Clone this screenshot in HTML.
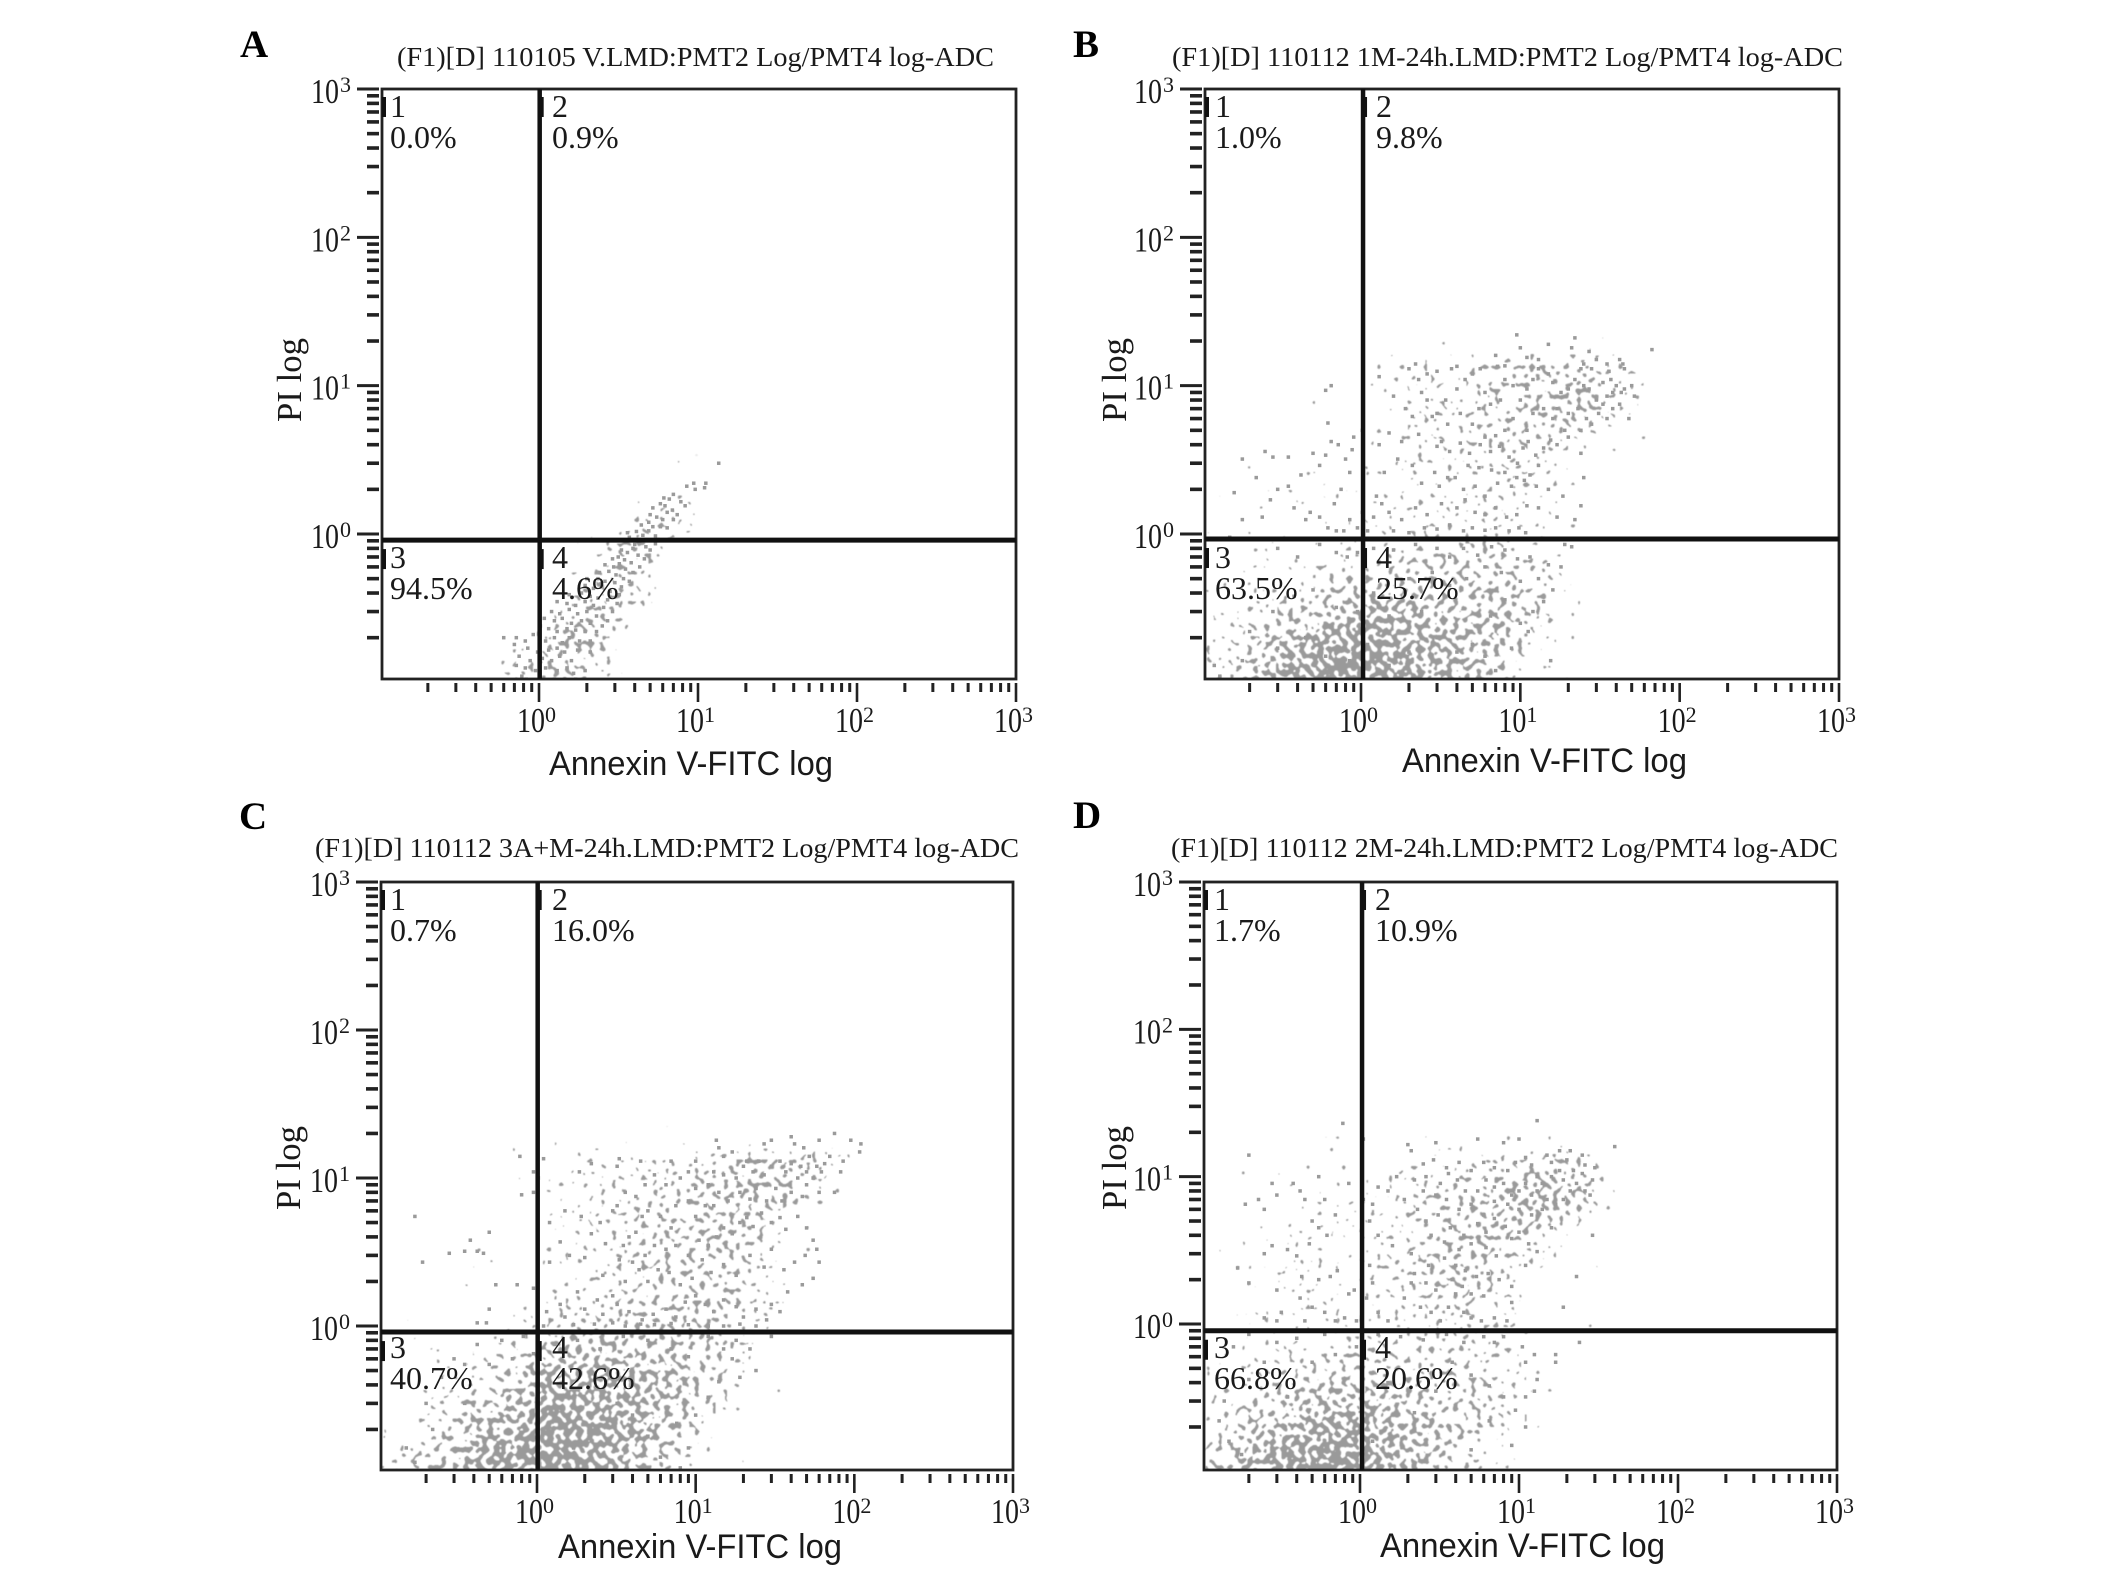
<!DOCTYPE html>
<html lang="en">
<head>
<meta charset="utf-8">
<title>Annexin V-FITC / PI flow cytometry panels</title>
<style>
html,body{margin:0;padding:0;background:#fff;width:2126px;height:1573px;overflow:hidden}
svg{display:block}
.ser{font-family:"Liberation Serif",serif;fill:#1a1a1a}
.san{font-family:"Liberation Sans",sans-serif;fill:#1a1a1a}
.letter{font-family:"Liberation Serif",serif;font-weight:bold;font-size:39px;fill:#000}
.title{font-size:27px}
.q{font-size:32px}
.axis-x{font-size:34px}
.axis-y{font-size:35px}
</style>
</head>
<body>
<svg id="figure" xmlns="http://www.w3.org/2000/svg" width="2126" height="1573" viewBox="0 0 2126 1573">
<defs>
<filter id="densityStipple" filterUnits="userSpaceOnUse" x="0" y="0" width="2126" height="1573" color-interpolation-filters="sRGB">
<feGaussianBlur in="SourceAlpha" stdDeviation="11" result="spread"/>
<feTurbulence type="fractalNoise" baseFrequency="0.17" numOctaves="1" seed="3" result="turb"/>
<feColorMatrix in="turb" type="matrix" values="0 0 0 0 0 0 0 0 0 0 0 0 0 0 0 0 0 0 1 0" result="noise"/>
<feComposite in="spread" in2="noise" operator="arithmetic" k1="0" k2="0.42" k3="1" k4="0" result="sum"/>
<feComponentTransfer in="sum" result="cut"><feFuncA type="discrete" tableValues="0 0 0 0 1"/></feComponentTransfer>
<feComponentTransfer in="spread" result="gate"><feFuncA type="linear" slope="60"/></feComponentTransfer>
<feComposite in="cut" in2="gate" operator="in" result="kept"/>
<feFlood flood-color="#9a9a9a" result="ink"/>
<feComposite in="ink" in2="kept" operator="in"/>
<feGaussianBlur stdDeviation="0.45"/>
</filter>
</defs>

<g id="panel-a">
<text class="letter" x="240" y="57">A</text>
<text class="ser title" x="397" y="66" textLength="597" lengthAdjust="spacingAndGlyphs">(F1)[D] 110105 V.LMD:PMT2 Log/PMT4 log-ADC</text>
<text class="san axis-x" x="549" y="775" textLength="284" lengthAdjust="spacingAndGlyphs">Annexin V-FITC log</text>
<text class="ser axis-y" transform="translate(301 422) rotate(-90)" textLength="84" lengthAdjust="spacingAndGlyphs">PI log</text>
<g>
<text class="ser q" x="390" y="117">1</text>
<text class="ser q" x="390" y="148">0.0%</text>
<text class="ser q" x="552" y="117">2</text>
<text class="ser q" x="552" y="148">0.9%</text>
<text class="ser q" x="390" y="568">3</text>
<text class="ser q" x="390" y="599">94.5%</text>
<text class="ser q" x="552" y="568">4</text>
<text class="ser q" x="552" y="599">4.6%</text>
</g>
</g>

<g id="panel-b">
<text class="letter" x="1073" y="57">B</text>
<text class="ser title" x="1172" y="66" textLength="671" lengthAdjust="spacingAndGlyphs">(F1)[D] 110112 1M-24h.LMD:PMT2 Log/PMT4 log-ADC</text>
<text class="san axis-x" x="1402" y="772" textLength="285" lengthAdjust="spacingAndGlyphs">Annexin V-FITC log</text>
<text class="ser axis-y" transform="translate(1126 422) rotate(-90)" textLength="84" lengthAdjust="spacingAndGlyphs">PI log</text>
<g>
<text class="ser q" x="1215" y="117">1</text>
<text class="ser q" x="1215" y="148">1.0%</text>
<text class="ser q" x="1376" y="117">2</text>
<text class="ser q" x="1376" y="148">9.8%</text>
<text class="ser q" x="1215" y="568">3</text>
<text class="ser q" x="1215" y="599">63.5%</text>
<text class="ser q" x="1376" y="568">4</text>
<text class="ser q" x="1376" y="599">25.7%</text>
</g>
</g>

<g id="panel-c">
<text class="letter" x="239" y="829">C</text>
<text class="ser title" x="315" y="857" textLength="704" lengthAdjust="spacingAndGlyphs">(F1)[D] 110112 3A+M-24h.LMD:PMT2 Log/PMT4 log-ADC</text>
<text class="san axis-x" x="558" y="1558" textLength="284" lengthAdjust="spacingAndGlyphs">Annexin V-FITC log</text>
<text class="ser axis-y" transform="translate(300 1210) rotate(-90)" textLength="84" lengthAdjust="spacingAndGlyphs">PI log</text>
<g>
<text class="ser q" x="390" y="910">1</text>
<text class="ser q" x="390" y="941">0.7%</text>
<text class="ser q" x="552" y="910">2</text>
<text class="ser q" x="552" y="941">16.0%</text>
<text class="ser q" x="390" y="1358">3</text>
<text class="ser q" x="390" y="1389">40.7%</text>
<text class="ser q" x="552" y="1358">4</text>
<text class="ser q" x="552" y="1389">42.6%</text>
</g>
</g>

<g id="panel-d">
<text class="letter" x="1073" y="828">D</text>
<text class="ser title" x="1171" y="857" textLength="667" lengthAdjust="spacingAndGlyphs">(F1)[D] 110112 2M-24h.LMD:PMT2 Log/PMT4 log-ADC</text>
<text class="san axis-x" x="1380" y="1557" textLength="285" lengthAdjust="spacingAndGlyphs">Annexin V-FITC log</text>
<text class="ser axis-y" transform="translate(1126 1210) rotate(-90)" textLength="84" lengthAdjust="spacingAndGlyphs">PI log</text>
<g>
<text class="ser q" x="1214" y="910">1</text>
<text class="ser q" x="1214" y="941">1.7%</text>
<text class="ser q" x="1375" y="910">2</text>
<text class="ser q" x="1375" y="941">10.9%</text>
<text class="ser q" x="1214" y="1358">3</text>
<text class="ser q" x="1214" y="1389">66.8%</text>
<text class="ser q" x="1375" y="1358">4</text>
<text class="ser q" x="1375" y="1389">20.6%</text>
</g>
</g>
</svg>

<script>
const tickExponents = [0, 1, 2, 3];
const minorMultipliers = [2, 3, 4, 5, 6, 7, 8, 9];
const tickBaseLabel = "10";

const pointsA = [[.51,.1],[.7,.1],[.78,.11],[.83,.105],[.95,.1],[1.1,.1],[1.25,.105],[1.45,.1],[1.7,.105],[.72,.13],[.82,.125],[.95,.12],[1.1,.125],[1.3,.12],[1.5,.125],[1.65,.115],[1.95,.12],[.75,.15],[.88,.14],[1.05,.145],[1.2,.14],[1.35,.15],[1.6,.14],[.7,.18],[.85,.17],[.98,.16],[1.15,.165],[1.3,.17],[1.45,.16],[1.75,.165],[2.1,.16],[.6,.2],[.72,.2],[.82,.19],[.92,.21],[1.1,.19],[1.25,.2],[1.4,.185],[1.55,.2],[1.8,.19],[2.1,.19],[1.02,.24],[1.15,.23],[1.3,.22],[1.5,.23],[1.7,.225],[1.95,.22],[2.3,.22],[1.08,.27],[1.25,.26],[1.4,.27],[1.6,.25],[1.85,.26],[2.1,.25],[2.5,.24],[1.2,.3],[1.35,.29],[1.55,.31],[1.75,.29],[2,.3],[2.3,.28],[2.7,.26],[1.3,.35],[1.5,.34],[1.7,.33],[1.95,.35],[2.2,.33],[2.55,.32],[2.9,.3],[1.55,.39],[1.85,.4],[2.1,.38],[2.35,.37],[2.7,.36],[3.1,.34],[1.95,.45],[2.2,.43],[2.45,.46],[2.8,.41],[3.2,.39],[2,.5],[2.35,.5],[2.6,.48],[3,.47],[3.3,.44],[2.4,.55],[2.75,.56],[3.05,.53],[3.4,.5],[3.7,.48],[2.6,.62],[2.95,.6],[3.2,.63],[3.5,.58],[3.9,.55],[2.9,.68],[3.15,.7],[3.45,.67],[3.8,.64],[4.3,.6],[3.3,.78],[3.6,.75],[3.9,.8],[4.2,.72],[4.6,.68],[3.5,.88],[3.7,.95],[4,.85],[4.3,.9],[4.7,.82],[5,.78],[5.4,.86],[3.6,1.02],[4.1,1.04],[4.5,.98],[4.9,1.05],[5.4,.97],[5.6,.92],[4.4,1.15],[4.9,1.2],[5.2,1.12],[5.8,1.12],[6.4,1.1],[5,1.35],[5.5,1.3],[6,1.25],[6.4,1.4],[7,1.25],[5.2,1.5],[5.8,1.6],[6.2,1.55],[6.9,1.45],[7.4,1.35],[6.1,1.75],[6.6,1.72],[7,1.85],[7.8,1.65],[8.3,1.55],[8.5,2.1],[9.4,2.2],[9.6,2],[11,2.05],[11.2,2.2],[13.5,3]];
const pointsB = [[67,17.5],[22,21],[21,18],[15,19],[9.5,22],[10,18],[11,15.5],[7,16],[7.2,13.5],[8,13.6],[13,15],[27,17],[30,15],[25,14],[24,13],[28,13],[35,14],[36,12.5],[42,15],[44,14],[45,13],[37,11],[33,10.5],[40,10],[45,9.5],[50,10],[52,8.5],[43,9],[38,9],[35,8.5],[30,8],[27,9.5],[25,10],[22,11],[20,9.5],[18,9],[16,10.5],[15,12],[13,13],[12,11],[11,9.5],[10,8],[9,10],[8,11],[7.5,8],[6.5,7.5],[6,9],[5.5,7],[17,7],[20,6.5],[23,7],[26,6],[28,5.5],[31,6.5],[35,6],[38,7],[33,7.5],[42,7.5],[48,6],[24,5],[19,5],[16,6],[14,7],[12,6.5],[11,5],[9,6],[8,5],[7,4.6],[6,4.5],[5,5.5],[4.2,6.5],[3.5,5.5],[3,6.5],[2.6,8],[2.4,9],[3.4,8],[2,13],[2.2,14],[2.3,11],[2.6,12],[3,12.5],[3.7,13],[4,13.5],[5,12],[5.6,13],[4.5,11],[4,9.5],[3.2,4.2],[1.3,11.5],[1.6,8.5],[1.9,7],[2.1,6.2],[2.8,6.2],[1.5,4.8],[1.8,4.2],[1.3,4],[2.3,4.7],[3,3.9],[3.6,3.6],[4.2,4.1],[4.8,3.5],[5.6,4],[6.5,3.6],[7.4,3.9],[8.5,3.3],[9.6,3],[10.4,3.8],[11.2,4.2],[12.5,3.4],[14,3.8],[15.5,4.3],[17,4],[20,4.5],[24,3.5],[13,2.9],[11.5,2.5],[9.5,2.4],[8,2.6],[6.6,2.7],[5.5,2.8],[4.7,2.9],[3.9,2.4],[2.9,2.6],[2.1,2.9],[1.7,3.2],[1.4,2.6],[2.4,2.2],[3.1,2.1],[3.5,2.4],[4.4,2],[5.2,2.1],[6,1.8],[7.2,2.2],[8.8,2.1],[10.6,2.3],[12.6,2.1],[15,2],[18.5,1.8],[25,2.4],[1.25,1.8],[1.35,1.6],[1.2,1.3],[1.5,1.4],[1.8,1.25],[2.2,1.5],[2.6,1.35],[3.2,1.6],[4,1.5],[4.5,1.7],[5.2,1.4],[6,1.35],[7,1.5],[8.2,1.3],[9.5,1.35],[11,1.55],[13,1.5],[17,1.3],[22,1.25],[24,1.55],[1.1,1.05],[1.6,1.05],[2,1.02],[2.5,1.1],[3,1.08],[3.6,1.15],[4.4,1.05],[5,1.1],[6,1.06],[7,1.1],[8.5,1.05],[9.8,1.1],[10.8,1.02],[.15,.95],[.18,1.25],[.24,1.3],[.27,1.7],[.22,2.4],[.16,1.9],[.3,2],[.35,2.1],[.38,1.5],[.45,1.25],[.48,1.4],[.55,1.3],[.62,1.1],[.7,1.05],[.78,1.05],[.25,3.6],[.28,3.3],[.35,3.3],[.5,3.5],[.55,2.9],[.75,2],[.68,1.6],[.42,2.5],[.6,3.4],[.8,3.2],[.85,2.6],[.72,4],[.65,4.2],[.88,3.7],[.62,5.6],[.6,9.3],[.65,10],[.18,3.2],[.9,4.5],[1.02,5],[1.02,1.4],[.85,1.25],[.95,1.1],[.3,.8],[.4,.7],[.55,.85],[.7,.75],[.82,.7],[.95,.75],[1.2,.8],[1.6,.78],[2.2,.85],[3,.8],[3.6,.7],[4.4,.8],[5.4,.72],[6.6,.82],[8,.78],[9.6,.68],[11.5,.7],[15,.62],[18,.6],[19,.85],[21,.82],[13,.5],[16,.42],[14,.35],[12,.3],[10,.25],[15.5,.14],[8.8,.17],[9.6,.1],[11.2,.22],[7,.12],[6,.15],[5,.18],[6.5,.28],[8,.36],[10,.48],[7.6,.55],[6,.6],[4.6,.5],[3.6,.45],[2.8,.55],[2,.5],[2.4,.3],[1.5,.28],[1.2,.4],[.95,.3],[.7,.32],[.5,.42],[.38,.38],[.28,.3],[.2,.22],[.18,.14],[.13,.11],[.12,.13],[.3,.17],[.45,.2],[.6,.15],[.85,.14],[1.1,.18],[1.5,.13],[2,.16],[3,.2],[4,.16]];
const pointsC = [[110,17],[108,15],[95,18],[75,20],[60,18],[52,14],[48,16],[42,17],[40,19],[30,18],[27,17],[21,13],[17,15],[13.5,18],[14,16],[15,14],[10,13],[7,13],[4.5,13],[3.3,13.5],[3.2,12],[2.2,12.5],[1.85,11],[1.1,13.5],[.78,14],[1.02,10],[85,13],[82,11],[70,14],[65,12.5],[62,11],[58,12],[55,10],[50,11],[46,12],[44,10],[40,12.5],[37,11],[34,13],[30,12],[27,10.5],[25,13],[23,11],[20,12],[18,10],[15,10.5],[13,11],[12,9],[10,8.5],[9,11],[8,10],[6.5,9],[5.5,10.5],[4.8,9],[4.2,7.5],[3.6,8],[3.2,6.5],[3,6],[2.5,5],[1.9,5.5],[1.5,6],[1.2,5],[75,8],[60,8],[50,9],[47,7.5],[40,8],[35,7],[32,8.5],[28,7],[24,8.5],[22,7.2],[19,8],[16,7],[14,8],[13,6.5],[11.5,6.5],[10,5.5],[9,7],[7.5,6.5],[7,4.6],[6,5.5],[5,6],[4.6,5.5],[4.2,4.3],[3.8,4],[3.5,3.5],[2.7,3.6],[2.2,4.2],[1.4,3.7],[1.6,3],[1.2,2.7],[2,2.9],[2.6,2.2],[3.3,2.8],[4,2.7],[4.8,3],[5.5,3.5],[6.5,3.3],[7.5,3.5],[9,3],[10.5,3.8],[12,3.5],[13.5,4],[15,4.6],[17,4.2],[19,5],[21,5.4],[23,4.7],[26,5.8],[30,5],[34,5.4],[37,4.5],[44,5.5],[50,4.6],[55,3.8],[58,3.3],[49,3],[60,2.7],[55,2.1],[47,1.9],[42,2.7],[36,2.4],[30,3.3],[27,2.5],[22,3],[18,2.2],[15,2.6],[12.5,2.3],[11,2.8],[9.5,2.1],[8,1.9],[6.8,2.3],[5.8,2.4],[5,2],[4.4,2.4],[3.6,2],[3,1.6],[2.4,1.5],[1.8,1.7],[1.4,1.4],[1.15,1.25],[1.5,1.15],[2,1.3],[2.6,1.2],[3.2,1.4],[3.8,1.25],[4.6,1.1],[5.4,1.2],[6.5,1.3],[7.5,1.15],[8.6,1.45],[10,1.6],[11.5,1.4],[13,1.25],[15,1.5],[18,1.35],[20,1.15],[24,1.3],[28,1.1],[30,1.4],[34,1.25],[38,1.7],[1.1,1],[1.7,1.02],[2.3,1.03],[3,1.05],[3.6,1],[4.5,1.03],[5.5,1.02],[7,1.04],[9,1.02],[12,1],[15,1],[19,1.03],[24,1],[.19,2.7],[.17,5.5],[.28,3.1],[.35,3.2],[.38,3.8],[.5,4.3],[.42,3.2],[.46,3.1],[.55,1.9],[.75,1.9],[.95,1.8],[.5,1.3],[.42,1.05],[.48,1.05],[.8,7.7],[.95,8],[.95,11],[.82,.85],[.6,.8],[.42,.75],[.3,.6],[.35,.55],[.25,.45],[.2,.3],[.22,.2],[.15,.15],[.17,.12],[.35,.3],[.5,.55],[.7,.6],[.95,.65],[1.3,.75],[1.8,.8],[2.5,.7],[3.5,.85],[5,.8],[7,.7],[9,.62],[12,.85],[15,.7],[18,.8],[23,.9],[30,.85],[37,.92],[22,.7],[24,.5],[19,.45],[17,.6],[14,.42],[12,.33],[10,.25],[7.6,.22],[9,.15],[8,.11],[6,.13],[5,.18],[4,.25],[3.2,.3],[2.4,.2],[1.7,.15]];
const pointsD = [[40,16],[13,24],[.78,23],[10,18],[8,17],[5.5,18],[3,17],[2,16.5],[2.1,15],[1.05,18],[.7,5.5],[.2,14],[.23,7],[.19,6.5],[.45,7],[.42,8],[.3,7.5],[.28,9],[.38,9],[.25,6],[.55,10],[.85,9],[.6,7],[.5,5],[.55,4.5],[.62,4],[.48,3.5],[.4,2.9],[.25,3],[.28,3.4],[.35,3.2],[.17,2.4],[.2,1.9],[.3,1.7],[.43,2.1],[.55,2],[.65,2.1],[.72,2.3],[.85,1.6],[.92,1.7],[.42,1.5],[.5,1.3],[.6,1.2],[.32,1.2],[.25,1.1],[.3,1.05],[.7,1.05],[.8,1.1],[.95,1.05],[.45,1.05],[1.15,2.5],[1.2,1.9],[1.1,1.5],[1.3,1.2],[1.5,1.05],[1.9,1.5],[2.1,1.9],[2.4,1.3],[2.8,1.2],[3.2,1.05],[3.6,1.3],[4,1.6],[4.5,1.2],[5,1.1],[5.8,1.05],[7,1.1],[8.4,1.05],[9,1.4],[6,1.55],[5,1.6],[4.4,1.8],[3.8,2],[3,1.7],[2.6,1.9],[2.2,2.2],[2.7,2.5],[3.4,2.8],[4,2.5],[4.6,2.3],[5.4,2.1],[6.4,2.2],[7.5,2],[9,1.8],[7.2,2.9],[6.2,3.3],[5,3.5],[4.2,3.2],[3.4,3.6],[2.8,4],[2.1,3],[1.6,3.4],[1.3,4],[1.15,5],[1.2,6.5],[1.5,8],[1.3,8.5],[1.7,10],[1.05,7],[1.9,7],[2.3,6],[2.6,5],[3.1,5.5],[3.7,4.5],[4.5,4],[5.5,4.8],[6.2,4.2],[7,5.2],[8.2,4.6],[9,3.8],[10,4.2],[11.5,3.5],[13,3.1],[11,2.5],[23,2.1],[19,1.3],[29,4],[16,4.5],[14,6],[12,5.5],[10,6],[8.5,6.5],[7,6.8],[6,5.5],[5,6.5],[4.2,6],[3.5,7],[3,7.5],[2.5,8],[2.2,9.5],[2.6,10],[3.2,9],[3.6,10.5],[4.1,9.5],[4.6,8],[5.5,8],[6.2,9.5],[7,8.5],[8,9],[9,7.5],[10,8],[11,9],[12,7.5],[13,8],[15,7],[17,6.5],[19,7],[21,8],[23,9],[26,8],[28,7.5],[29,9.5],[30,11.5],[26,12],[25,10.5],[22,11],[20,13],[18,11],[16,12.5],[15,14],[13,10],[12,12],[11,13.5],[9.5,12.5],[8.5,11],[7,11.5],[6,12.5],[5,11],[4.2,12.5],[3.5,11.5],[2.9,13],[2.5,12.2],[16,10],[19,9.5],[14,9],[18,15],[21,15],[25,14],[.78,.9],[.6,.85],[.4,.8],[.3,.75],[.2,.85],[.16,.7],[.25,.55],[.2,.42],[.14,.3],[.13,.22],[.15,.16],[.18,.13],[.35,.32],[.5,.55],[.7,.62],[.95,.7],[1.3,.85],[1.8,.82],[2.5,.78],[3.5,.85],[4.5,.75],[6,.82],[7,.75],[8,.82],[10.5,.7],[11,.55],[12.5,.62],[17,.55],[24,.75],[17,.62],[13,.42],[12.5,.35],[11,.32],[11,.2],[9,.15],[8,.1],[9.5,.26],[8,.32],[6.5,.22],[5,.14],[6.5,.38],[5,.45],[3.8,.55],[3,.35],[2.2,.25],[1.5,.4],[1.2,.16]];

const densityA = [
[0,0,0,0,0,0,0,0,0,0,0,0],
[0,0,0,0,0,0,0,0,0,0,0,0],
[0,0,0,0,0,0,0,0,0,0,0,0],
[0,0,0,0,0,0,0,0,0,0,0,0],
[0,0,0,0,0,0,0,.06,0,0,0,0],
[0,0,0,0,0,0,.15,.18,0,0,0,0],
[0,0,0,0,0,.1,.32,.03,0,0,0,0],
[0,0,0,0,0,.3,.2,0,0,0,0,0],
[0,0,0,0,.06,.36,.12,0,0,0,0,0],
[0,0,0,.01,.36,.32,0,0,0,0,0,0],
[0,0,0,.22,.32,.16,0,0,0,0,0,0]];
const densityB = [
[0,0,0,0,.04,.12,.16,.22,.3,.27,.14,0],
[0,0,0,.02,.04,.1,.16,.24,.3,.36,.16,0],
[0,0,0,0,.06,.12,.14,.24,.22,.2,.02,0],
[0,0,.02,.04,.06,.12,.14,.16,.16,.07,0,0],
[0,.02,.04,.06,.07,.1,.12,.14,.1,.02,0,0],
[.01,.02,.04,.05,.08,.1,.1,.12,.05,.02,0,0],
[.03,.04,.05,.08,.12,.16,.18,.2,.12,.02],
[.05,.08,.14,.24,.3,.3,.28,.32,.2,.03],
[.07,.16,.26,.38,.5,.42,.36,.4,.2,.01],
[.12,.32,.5,.68,.7,.55,.45,.42,.14,0],
[.14,.45,.68,.78,.72,.6,.45,.25,.04,0]];
const densityC = [
[0,0,0,.02,.04,.13,.15,.18,.22,.34,.34,.11],
[0,0,0,.01,.06,.13,.18,.22,.32,.36,.27,.02],
[0,0,0,.01,.07,.13,.2,.25,.25,.32,.06,0],
[0,0,.02,.02,.06,.15,.22,.25,.28,.22,.02,0],
[0,0,.02,.02,.07,.13,.22,.25,.22,.13,.01,0],
[0,0,.01,.04,.14,.2,.2,.25,.3,.2,.02,0],
[.02,.02,.05,.14,.34,.38,.34,.3,.26,.06],
[0,.05,.12,.28,.5,.5,.46,.42,.28,.05],
[.01,.12,.28,.4,.66,.62,.52,.42,.2,.01],
[.04,.2,.45,.62,.8,.72,.54,.36,.06,0],
[.14,.34,.6,.76,.85,.66,.4,.2,.01,0]];
const densityD = [
[0,.01,0,.02,.04,.1,.14,.19,.26,.19,.01,0],
[0,.04,.04,.06,.1,.14,.24,.33,.45,.33,.01,0],
[0,.04,.07,.06,.12,.19,.29,.36,.36,.1,0,0],
[.02,.04,.07,.06,.12,.22,.29,.24,.1,.01,0,0],
[0,.06,.1,.1,.12,.19,.31,.16,.04,.01,0,0],
[.02,.06,.1,.07,.12,.14,.22,.12,.01,.01,0,0],
[.03,.07,.1,.14,.16,.16,.18,.14,.03,0],
[.05,.12,.2,.28,.24,.2,.24,.18,.04,0],
[.1,.22,.38,.46,.42,.32,.28,.2,.04,0],
[.12,.38,.52,.62,.52,.42,.3,.16,.02,0],
[.28,.58,.72,.8,.6,.42,.22,.06,0,0]];

const densityColumnStart = -1;
const densityColumnStep = .25;
const densityRowStart = 1.2;
const densityRowStep = .2;

const figure = document.getElementById('figure');
const NS = 'http://www.w3.org/2000/svg';

function make(tag, attrs, parent) {
  const el = document.createElementNS(NS, tag);
  for (const k in attrs) el.setAttribute(k, attrs[k]);
  parent.appendChild(el);
  return el;
}

function drawPanel(id, geo, points, density) {
  const root = document.getElementById(id);
  const xOf = v => geo.x1 + Math.log10(v) * (geo.right - geo.x1) / 3;
  const yOf = v => geo.y1 - Math.log10(v) * (geo.y1 - geo.top) / 3;
  const vx = xOf(geo.xGate);
  const hy = yOf(geo.yGate);

  const clip = make('clipPath', {id: id + '-clip'}, root);
  make('rect', {x: geo.left, y: geo.top, width: geo.right - geo.left, height: geo.bottom - geo.top}, clip);

  const under = document.createElementNS(NS, 'g');
  
  
  under.setAttribute('clip-path', 'url(#' + id + '-clip)');
  root.insertBefore(under, root.firstChild);

  const stipple = make('g', {filter: 'url(#densityStipple)'}, under);
  
  
  density.forEach((row, r) => {
    row.forEach((d, c) => {
      const lo = densityColumnStart + c * densityColumnStep;
      const x0 = xOf(Math.pow(10, lo)) - (c === 0 ? 40 : 0);
      const x1 = xOf(Math.pow(10, lo + densityColumnStep));
      const y0 = yOf(Math.pow(10, densityRowStart - r * densityRowStep));
      const y1 = yOf(Math.pow(10, densityRowStart - (r + 1) * densityRowStep)) + (r === density.length - 1 ? 40 : 0);
      const cell = make('rect', {x: x0, y: y0, width: x1 - x0, height: y1 - y0, fill: '#000', 'fill-opacity': Math.pow(d, .6)}, stipple);
      
      
    });
  });

  points.forEach(p => {
    const dot = make('rect', {x: xOf(p[0]) - 1.75, y: yOf(p[1]) - 1.75, width: 3.5, height: 3.5, fill: '#9a9a9a'}, under);
    
    
  });

  const frame = make('rect', {x: geo.left, y: geo.top, width: geo.right - geo.left, height: geo.bottom - geo.top, fill: 'none', stroke: '#222', 'stroke-width': 2.8}, root);
  
  

  const vGate = make('line', {x1: vx, x2: vx, y1: geo.top, y2: geo.bottom, stroke: '#111', 'stroke-width': 4.5}, root);
  
  
  const hGate = make('line', {x1: geo.left, x2: geo.right, y1: hy, y2: hy, stroke: '#111', 'stroke-width': 5}, root);
  
  

  [[geo.left + 2, geo.top + 8], [vx + 2, geo.top + 8], [geo.left + 2, hy + 9], [vx + 2, hy + 9]].forEach(m => {
    const mark = make('line', {x1: m[0], x2: m[0], y1: m[1], y2: m[1] + 20, stroke: '#111', 'stroke-width': 4}, root);
    
    
  });

  for (let e = -1; e < 3; e++) {
    minorMultipliers.forEach(m => {
      const v = m * Math.pow(10, e);
      const xt = make('line', {x1: xOf(v), x2: xOf(v), y1: geo.bottom + 4, y2: geo.bottom + 13, stroke: '#222', 'stroke-width': 3}, root);
      
      
      const yt = make('line', {x1: geo.left - 15, x2: geo.left - 3, y1: yOf(v), y2: yOf(v), stroke: '#222', 'stroke-width': 3.6}, root);
      
      
    });
  }

  tickExponents.forEach(e => {
    const v = Math.pow(10, e);
    const xt = make('line', {x1: xOf(v), x2: xOf(v), y1: geo.bottom + 4, y2: geo.bottom + 23, stroke: '#222', 'stroke-width': 2.6}, root);
    
    
    const yt = make('line', {x1: geo.left - 25, x2: geo.left - 3, y1: yOf(v), y2: yOf(v), stroke: '#222', 'stroke-width': 3}, root);
    
    

    const xBase = make('text', {x: xOf(v) - 22, y: geo.bottom + 53, 'font-size': 35, textLength: 28, lengthAdjust: 'spacingAndGlyphs', class: 'ser'}, root);
    xBase.textContent = tickBaseLabel;
    
    
    const xExp = make('text', {x: xOf(v) + 6, y: geo.bottom + 43, 'font-size': 22, class: 'ser'}, root);
    xExp.textContent = String(e);
    
    

    const yBase = make('text', {x: geo.left - 71, y: yOf(v) + 14, 'font-size': 35, textLength: 28, lengthAdjust: 'spacingAndGlyphs', class: 'ser'}, root);
    yBase.textContent = tickBaseLabel;
    
    
    const yExp = make('text', {x: geo.left - 42, y: yOf(v) + 3, 'font-size': 22, class: 'ser'}, root);
    yExp.textContent = String(e);
    
    
  });
}

drawPanel('panel-a', {left: 382, right: 1016, top: 89, bottom: 679, x1: 539, y1: 534, xGate: 1.01, yGate: .91}, pointsA, densityA);
drawPanel('panel-b', {left: 1205, right: 1839, top: 89, bottom: 679, x1: 1361, y1: 534, xGate: 1.03, yGate: .925}, pointsB, densityB);
drawPanel('panel-c', {left: 381, right: 1013, top: 882, bottom: 1470, x1: 537, y1: 1326, xGate: 1.01, yGate: .91}, pointsC, densityC);
drawPanel('panel-d', {left: 1204, right: 1837, top: 882, bottom: 1470, x1: 1360, y1: 1324, xGate: 1.03, yGate: .9}, pointsD, densityD);
</script>
</body>
</html>
